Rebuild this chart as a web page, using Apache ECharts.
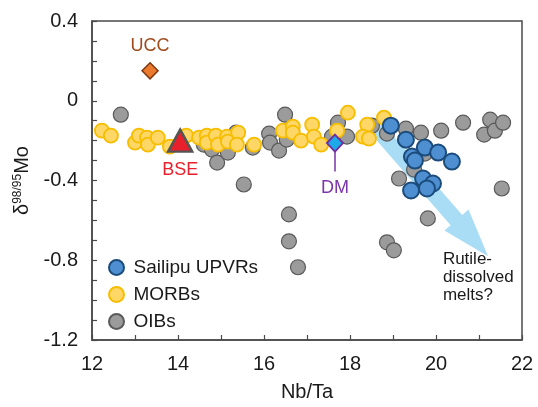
<!DOCTYPE html>
<html>
<head>
<meta charset="utf-8">
<script src="https://cdn.jsdelivr.net/npm/echarts@6/dist/echarts.min.js"></script>
<style>
  html, body { margin: 0; padding: 0; background: #ffffff; }
  #chart { width: 538px; height: 407px; }
</style>
</head>
<body>
<div id="chart"></div>
<script>
// Nb/Ta versus δ98/95Mo for each sample group: [Nb/Ta, δ98/95Mo]
const sailipu = [
  [18.95, -0.125], [19.30, -0.195], [19.74, -0.235], [20.05, -0.26],
  [19.44, -0.28], [19.51, -0.30], [20.37, -0.305], [19.70, -0.39],
  [19.93, -0.415], [19.42, -0.45], [19.79, -0.44]
];

const morb = [
  [12.23, -0.15], [12.44, -0.175], [13.00, -0.21], [13.09, -0.175],
  [13.28, -0.185], [13.30, -0.22], [13.53, -0.185], [13.81, -0.23],
  [14.19, -0.175], [14.49, -0.185], [14.67, -0.175], [14.67, -0.21],
  [14.88, -0.175], [14.93, -0.22], [15.14, -0.18], [15.16, -0.205],
  [15.40, -0.16], [15.37, -0.22], [15.77, -0.22], [16.44, -0.15],
  [16.67, -0.13], [16.67, -0.16], [16.86, -0.20], [17.12, -0.12],
  [17.16, -0.18], [17.33, -0.22], [17.70, -0.15], [17.95, -0.06],
  [18.40, -0.12], [18.30, -0.18], [18.44, -0.19], [18.79, -0.085]
];

const oib = [
  [12.67, -0.07], [14.60, -0.22], [14.79, -0.245], [14.91, -0.31],
  [15.16, -0.26], [15.35, -0.16], [15.53, -0.42], [15.74, -0.235],
  [16.12, -0.165], [16.14, -0.21], [16.35, -0.25], [16.49, -0.07],
  [16.53, -0.195], [16.58, -0.57], [16.58, -0.705], [16.79, -0.835],
  [17.58, -0.18], [17.72, -0.11], [17.93, -0.18], [18.51, -0.125],
  [18.86, -0.165], [18.86, -0.71], [19.02, -0.75], [19.14, -0.39],
  [19.30, -0.14], [19.49, -0.345], [19.65, -0.16], [19.74, -0.265],
  [19.81, -0.59], [20.12, -0.15], [20.63, -0.11], [21.12, -0.17],
  [21.26, -0.095], [21.37, -0.15], [21.56, -0.11], [21.53, -0.44]
];

// Reservoir reference values
const ucc = [13.35, 0.15];
const bse = [14.05, -0.20];
const dm = [17.65, -0.2125];

// Trend arrow (start, tip) and its caption anchor, in data units
const arrowStart = [18.62, -0.14];
const arrowTip = [21.21, -0.78];
const captionAnchor = [20.16, -0.748];
const captionText = 'Rutile-\ndissolved\nmelts?';

const FONT = '"Liberation Sans", Arial, sans-serif';
const AXIS_COLOR = '#4a4a4a';

const chart = echarts.init(document.getElementById('chart'), null, { renderer: 'canvas' });

const option = {
  animation: false,
  backgroundColor: '#ffffff',
  textStyle: { fontFamily: FONT },
  grid: {
    left: 92, right: 16, top: 21, bottom: 66,
    show: true, borderColor: AXIS_COLOR, borderWidth: 1.5,
    backgroundColor: 'transparent'
  },
  xAxis: {
    type: 'value', min: 12, max: 22, interval: 1,
    name: 'Nb/Ta', nameLocation: 'middle', nameGap: 42,
    nameTextStyle: { fontSize: 20, color: '#1a1a1a', fontFamily: FONT },
    axisLine: { show: true, onZero: false, lineStyle: { color: AXIS_COLOR, width: 1.5 } },
    axisTick: { show: true, inside: true, length: 5, lineStyle: { color: AXIS_COLOR, width: 1.2 } },
    axisLabel: {
      fontSize: 20, color: '#1a1a1a', margin: 14, fontFamily: FONT,
      formatter: v => (Math.round(v) % 2 === 0 ? String(Math.round(v)) : '')
    },
    splitLine: { show: false }
  },
  yAxis: {
    type: 'value', min: -1.2, max: 0.4, interval: 0.1,
    name: '{d|δ}{s|98/95}{m|Mo}',
    nameLocation: 'middle', nameGap: 56, nameRotate: 90,
    nameTextStyle: {
      color: '#1a1a1a', fontFamily: FONT,
      rich: {
        d: { fontSize: 20, fontFamily: FONT, color: '#1a1a1a' },
        s: { fontSize: 12, fontFamily: FONT, color: '#1a1a1a', padding: [0, 0, 9, 0] },
        m: { fontSize: 20, fontFamily: FONT, color: '#1a1a1a' }
      }
    },
    axisLine: { show: true, onZero: false, lineStyle: { color: AXIS_COLOR, width: 1.5 } },
    axisTick: { show: true, inside: true, length: 5, lineStyle: { color: AXIS_COLOR, width: 1.2 } },
    axisLabel: {
      fontSize: 20, color: '#1a1a1a', margin: 14, fontFamily: FONT,
      formatter: v => {
        const t = Math.round(v * 10);
        if (t % 4 !== 0) return '';
        return t === 0 ? '0' : (t / 10).toFixed(1);
      }
    },
    splitLine: { show: false }
  },
  legend: {
    data: ['Sailipu UPVRs', 'MORBs', 'OIBs'],
    orient: 'vertical', left: 108, top: 258, padding: 0,
    itemWidth: 24, itemHeight: 15, itemGap: 8,
    icon: 'circle',
    textStyle: { fontSize: 19, color: '#1a1a1a', fontFamily: FONT, padding: [0, 0, 0, 0] }
  },
  series: [
    {
      name: 'OIBs', type: 'scatter', data: oib, symbol: 'circle', symbolSize: 15, z: 2,
      itemStyle: { color: '#9b9b9b', borderColor: '#5a5a5a', borderWidth: 1.2, opacity: 1 }
    },
    {
      name: 'MORBs', type: 'scatter', data: morb, symbol: 'circle', symbolSize: 14, z: 3,
      itemStyle: { color: '#ffd766', borderColor: '#f7bd00', borderWidth: 1.8, opacity: 1 }
    },
    {
      name: 'Sailipu UPVRs', type: 'scatter', data: sailipu, symbol: 'circle', symbolSize: 16, z: 4,
      itemStyle: { color: '#4e8fd1', borderColor: '#1b4c7c', borderWidth: 2, opacity: 1 }
    },
    {
      name: 'UCC', type: 'scatter', data: [ucc], symbol: 'diamond', symbolSize: [16, 16], z: 5,
      itemStyle: { color: '#ea7a2e', borderColor: '#7e3812', borderWidth: 1.5, opacity: 1 },
      label: { show: true, position: 'top', distance: 7, formatter: 'UCC',
        fontSize: 18, color: '#9e4a1c', fontFamily: FONT }
    },
    {
      name: 'BSE', type: 'scatter', data: [bse], symbol: 'triangle', symbolSize: [24, 22], z: 5,
      itemStyle: { color: '#e8202c', borderColor: '#555555', borderWidth: 2.5, opacity: 1 },
      label: { show: true, position: 'bottom', distance: 8, formatter: 'BSE',
        fontSize: 18, color: '#e8202c', fontFamily: FONT }
    },
    {
      name: 'DM', type: 'scatter', data: [dm], symbol: 'diamond', symbolSize: [16, 17], z: 6,
      itemStyle: { color: '#1eaae8', borderColor: '#7030a0', borderWidth: 2, opacity: 1 },
      label: { show: true, position: 'bottom', distance: 26, formatter: 'DM',
        fontSize: 18, color: '#7a35a8', fontFamily: FONT },
      markLine: {
        silent: true, symbol: ['none', 'none'], animation: false,
        label: { show: false },
        lineStyle: { color: '#7a35a8', width: 1.5, type: 'solid' },
        data: [[{ coord: [dm[0], dm[1] - 0.04] }, { coord: [dm[0], -0.355] }]]
      }
    }
  ]
};

chart.setOption(option);

// Broad arrow from the Sailipu cluster toward lower δ98/95Mo, plus caption
function arrowPolygon() {
  const p0 = chart.convertToPixel({ gridIndex: 0 }, arrowStart);
  const p1 = chart.convertToPixel({ gridIndex: 0 }, arrowTip);
  const dx = p1[0] - p0[0], dy = p1[1] - p0[1];
  const len = Math.sqrt(dx * dx + dy * dy);
  const ux = dx / len, uy = dy / len;
  const nx = -uy, ny = ux;
  const headLen = 48, headHalf = 16, bandHalf = 7.7;
  const bx = p1[0] - ux * headLen, by = p1[1] - uy * headLen;
  return [
    [p0[0] + nx * bandHalf, p0[1] + ny * bandHalf],
    [bx + nx * bandHalf, by + ny * bandHalf],
    [bx + nx * headHalf, by + ny * headHalf],
    [p1[0], p1[1]],
    [bx - nx * headHalf, by - ny * headHalf],
    [bx - nx * bandHalf, by - ny * bandHalf],
    [p0[0] - nx * bandHalf, p0[1] - ny * bandHalf]
  ];
}

const cap = chart.convertToPixel({ gridIndex: 0 }, captionAnchor);

chart.setOption({
  graphic: [
    {
      type: 'polygon', z: 0, silent: true,
      shape: { points: arrowPolygon() },
      style: { fill: '#a9ddf5', stroke: 'none' }
    },
    {
      type: 'text', z: 10, silent: true,
      x: cap[0], y: cap[1],
      style: {
        text: captionText, fontSize: 17, lineHeight: 18,
        fontFamily: FONT, fill: '#1a1a1a',
        textAlign: 'left', textVerticalAlign: 'top'
      }
    }
  ]
});
</script>
</body>
</html>
